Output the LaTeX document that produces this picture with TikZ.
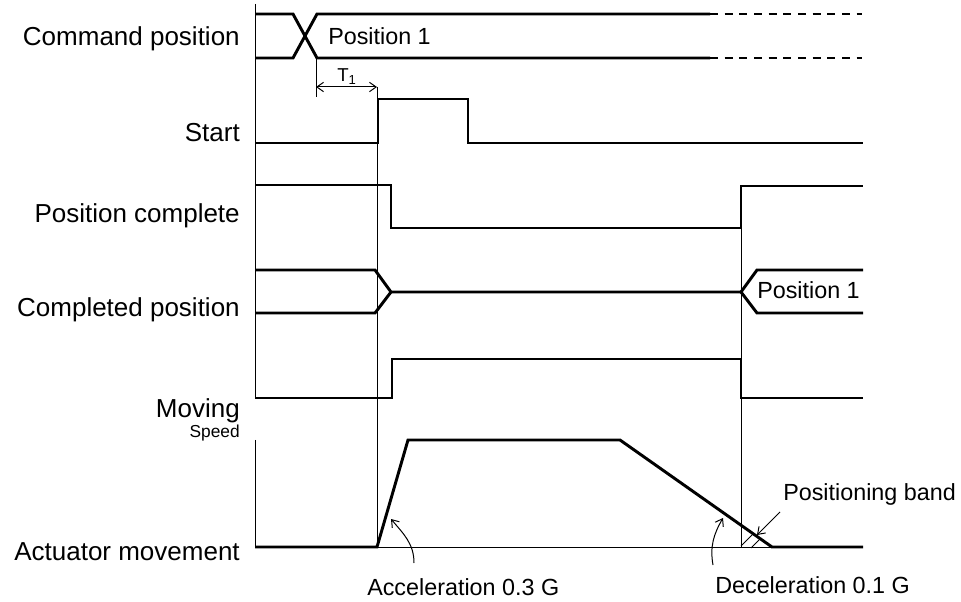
\documentclass[tikz,border=0pt]{standalone}
\usepackage{fontspec}
\setmainfont{Liberation Sans}
\usetikzlibrary{arrows.meta}

\tikzset{
  sig/.style={line width=2.2pt, line join=miter},
  guide/.style={line width=0.75pt},
  lbl/.style={font=\fontsize{19.5}{22}\selectfont, anchor=base east, inner sep=0pt},
  note/.style={font=\fontsize{17.5}{20}\selectfont, anchor=base west, inner sep=0pt},
  barb/.style={-{Straight Barb[length=5pt,width=7pt]}, line width=0.75pt},
  bothbarb/.style={{Straight Barb[length=5pt,width=7pt]}-{Straight Barb[length=5pt,width=7pt]}, line width=0.75pt},
}

\begin{document}
\begin{tikzpicture}[x=0.75pt, y=-0.75pt]
  \useasboundingbox (0,0) rectangle (961,602);
  % signal names
  \node[lbl] (cmd) at (240,46) {Command position};
  \node[lbl] (start) at (240,142) {Start};
  \node[lbl] (pcomp) at (240,223) {Position complete};
  \node[lbl] (cpos) at (240,317) {Completed position};
  \node[lbl] (moving) at (240,417) {Moving};
  \node[lbl, font=\fontsize{13}{15}\selectfont] (speed) at (240,437) {Speed};
  \node[lbl] (act) at (240,560) {Actuator movement};
  % axes and guides
  \draw[guide] (255,4) -- (255,398);
  \draw[guide] (255,440) -- (255,547);
  \draw[guide] (316,58) -- (316,97);
  \draw[guide] (377,87) -- (377,547);
  \draw[guide] (741,186) -- (741,547);
  \draw[guide] (377,547) -- (772,547);
  % command position
  \draw[sig] (255,14) -- (293,14) -- (317,58) -- (710,58);
  \draw[sig] (255,58) -- (293,58) -- (317,14) -- (710,14);
  \draw[sig, dash pattern=on 6pt off 5pt] (710,14) -- (862,14);
  \draw[sig, dash pattern=on 6pt off 5pt] (710,58) -- (862,58);
  \node[note] (pos1) at (328,45) {Position 1};
  % T1
  \coordinate (t0) at (316,87);
  \coordinate (t1) at (377,87);
  \draw[bothbarb] (t0) -- (t1);
  \node[note, font=\fontsize{14}{16}\selectfont] (tone) at (337,82) {T\textsubscript{1}};
  % start
  \draw[sig] (255,143) -- (378,143) -- (378,99) -- (468,99) -- (468,143) -- (863,143);
  % position complete
  \draw[sig] (255,185) -- (391,185) -- (391,228) -- (741,228) -- (741,186) -- (863,186);
  % completed position
  \draw[sig] (255,270) -- (375,270) -- (391,292) -- (741,292);
  \draw[sig] (255,313) -- (375,313) -- (391,292);
  \draw[sig] (863,270) -- (757,270) -- (741,292) -- (757,313) -- (863,313);
  \node[note] (pos2) at (757,299) {Position 1};
  % moving
  \draw[sig] (255,398) -- (392,398) -- (392,359) -- (741,359) -- (741,398) -- (863,398);
  % actuator speed
  \draw[sig] (255,547) -- (377,547) -- (408,440) -- (620,440) -- (772,547) -- (863,547);
  % positioning band
  \draw[guide] (741,546) -- (753,534);
  \draw[guide] (751,548) -- (760,539);
  \node[note] (band) at (783,500) {Positioning band};
  \coordinate (bandtip) at (757,535);
  \draw[barb] (780,512) -- (bandtip);
  % acceleration / deceleration
  \node[note] (acc) at (367,595) {Acceleration 0.3 G};
  \node[note] (dec) at (715,593) {Deceleration 0.1 G};
  \coordinate (acctip) at (391,519);
  \coordinate (dectip) at (723,518);
  \draw[barb] (414,563) to[out=90, in=-50] (acctip);
  \draw[barb] (713,565) to[out=100, in=-120] (dectip);
\end{tikzpicture}
\end{document}
